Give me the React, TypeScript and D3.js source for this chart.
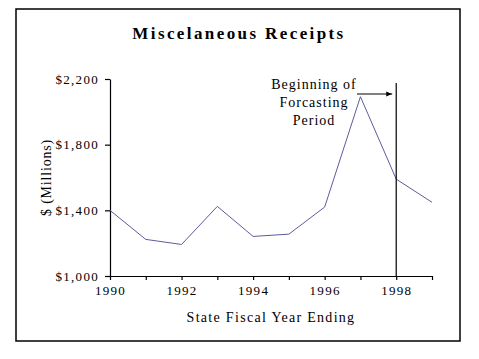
import React, { useEffect, useRef } from "react";
import { axisBottom, axisLeft, line, scaleLinear, select } from "d3";

const WIDTH = 479;
const HEIGHT = 359;
const FONT = "'Times New Roman', 'Liberation Serif', serif";
const LINE_COLOR = "#5c5c9c";

const years = [1990, 1991, 1992, 1993, 1994, 1995, 1996, 1997, 1998, 1999];
const receipts = [1400, 1223, 1192, 1424, 1241, 1255, 1420, 2092, 1590, 1449];
const yTicks = [1000, 1400, 1800, 2200];
const xLabelYears = [1990, 1992, 1994, 1996, 1998];
const forecastStart = 1998;
const noteLines = ["Beginning of", "Forcasting", "Period"];

const PLOT = { left: 110, right: 432, top: 79, bottom: 276 };

const App = () => {
    const svgRef = useRef<SVGSVGElement>(null);

    useEffect(() => {
        const svg = select(svgRef.current);
        svg.selectAll("*").remove();

        const x = scaleLinear().domain([1990, 1999]).range([PLOT.left, PLOT.right]);
        const y = scaleLinear().domain([1000, 2200]).range([PLOT.bottom, PLOT.top]);

        // outer frame
        svg.append("rect")
            .attr("x", 16)
            .attr("y", 9)
            .attr("width", 444)
            .attr("height", 332)
            .attr("fill", "white")
            .attr("stroke", "black")
            .attr("stroke-width", 1.5);

        svg.append("text")
            .attr("x", 239)
            .attr("y", 39)
            .attr("text-anchor", "middle")
            .attr("font-family", FONT)
            .attr("font-weight", "bold")
            .attr("font-size", 17)
            .attr("letter-spacing", 2.4)
            .text("Miscelaneous Receipts");

        const yAxis = svg.append("g")
            .attr("transform", `translate(${PLOT.left},0)`)
            .call(axisLeft(y).tickValues(yTicks).tickSize(5).tickSizeOuter(0)
                .tickFormat(d => "$" + (d as number).toLocaleString("en-US")));
        const xAxis = svg.append("g")
            .attr("transform", `translate(0,${PLOT.bottom})`)
            .call(axisBottom(x).tickValues(years).tickSize(4).tickSizeOuter(0)
                .tickFormat(d => (xLabelYears.includes(d as number) ? String(d) : "")));

        [yAxis, xAxis].forEach(g => {
            g.selectAll("path, line").attr("stroke", "black").attr("stroke-width", 1.2);
            g.selectAll("text")
                .attr("font-family", FONT)
                .attr("font-size", 13)
                .attr("fill", "black")
                .attr("letter-spacing", 1.3);
        });
        yAxis.selectAll("text").attr("x", -11);
        xAxis.selectAll("text").attr("y", 10);

        svg.append("text")
            .attr("transform", `translate(51,${(PLOT.top + PLOT.bottom) / 2}) rotate(-90)`)
            .attr("text-anchor", "middle")
            .attr("font-family", FONT)
            .attr("font-size", 14)
            .attr("letter-spacing", 0.8)
            .text("$ (Millions)");

        svg.append("text")
            .attr("x", (PLOT.left + PLOT.right) / 2)
            .attr("y", 322)
            .attr("text-anchor", "middle")
            .attr("font-family", FONT)
            .attr("font-size", 14)
            .attr("letter-spacing", 1.3)
            .text("State Fiscal Year Ending");

        const lineFunc = line<number>()
            .x((_, i) => x(years[i]))
            .y(d => y(d));
        svg.append("path")
            .attr("d", lineFunc(receipts))
            .attr("fill", "none")
            .attr("stroke", LINE_COLOR)
            .attr("stroke-width", 1);

        // forecast marker
        svg.append("line")
            .attr("x1", x(forecastStart))
            .attr("x2", x(forecastStart))
            .attr("y1", 83)
            .attr("y2", PLOT.bottom)
            .attr("stroke", "black")
            .attr("stroke-width", 1.2);

        svg.append("defs").append("marker")
            .attr("id", "arrow")
            .attr("viewBox", "0 0 10 10")
            .attr("refX", 10)
            .attr("refY", 5)
            .attr("markerWidth", 6)
            .attr("markerHeight", 6)
            .attr("orient", "auto")
            .append("path")
            .attr("d", "M0,1 L10,5 L0,9 Z")
            .attr("fill", "black");

        svg.append("line")
            .attr("x1", 357)
            .attr("x2", x(forecastStart) - 4)
            .attr("y1", 94)
            .attr("y2", 94)
            .attr("stroke", "black")
            .attr("stroke-width", 1)
            .attr("marker-end", "url(#arrow)");

        svg.append("g")
            .selectAll("text")
            .data(noteLines)
            .enter()
            .append("text")
            .attr("x", 314)
            .attr("y", (_, i) => 89 + i * 18)
            .attr("text-anchor", "middle")
            .attr("font-family", FONT)
            .attr("font-size", 14)
            .attr("letter-spacing", 1)
            .text(d => d);
    }, []);

    return (
        <svg
            ref={svgRef}
            width={WIDTH}
            height={HEIGHT}
            style={{ position: "absolute", left: 0, top: 0, background: "white" }}
        />
    );
};

export default App;
